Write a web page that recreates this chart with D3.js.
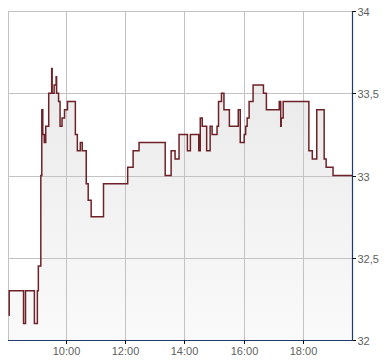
<!DOCTYPE html>
<html>
<head>
<meta charset="utf-8">
<script src="https://cdn.jsdelivr.net/npm/d3@7"></script>
<style>
  html, body { margin: 0; padding: 0; background: #ffffff; }
  svg { display: block; }
</style>
</head>
<body>
<div id="chart"></div>
<script>
// ---- data ----
const times = ["08:04","08:05","08:34","08:38","08:56","09:02","09:04","09:09","09:11","09:13","09:16","09:19","09:25",
  "09:31","09:32","09:36","09:40","09:41","09:45","09:48","09:52","09:57","10:03","10:19","10:23","10:29","10:33",
  "10:41","10:45","10:51","11:16","12:05","12:16","12:28","13:21","13:33","13:41","13:49","14:06","14:12","14:29",
  "14:32","14:36","14:45","14:52","14:56","15:06","15:09","15:15","15:20","15:31","15:49","15:53","16:01","16:04",
  "16:07","16:11","16:19","16:40","16:46","17:12","17:15","17:16","17:20","18:12","18:19","18:28","18:43","18:47",
  "19:01","19:40"];
const prices = [32.15,32.3,32.1,32.3,32.1,32.3,32.45,33.0,33.4,33.25,33.2,33.3,33.5,
  33.65,33.5,33.55,33.6,33.5,33.45,33.3,33.35,33.4,33.45,33.25,33.15,33.2,33.15,
  32.95,32.85,32.75,32.95,33.05,33.15,33.2,33.0,33.15,33.1,33.25,33.15,33.25,33.15,
  33.35,33.3,33.15,33.3,33.25,33.3,33.45,33.5,33.4,33.3,33.4,33.2,33.25,33.3,
  33.35,33.45,33.55,33.5,33.4,33.45,33.3,33.35,33.45,33.15,33.1,33.4,33.1,33.05,
  33.0,33.0];
const xTickLabels = ["10:00","12:00","14:00","16:00","18:00"];
const yTickValues = [32, 32.5, 33, 33.5, 34];
const yTickLabels = ["32","32,5","33","33,5","34"];
const xDomainLabels = ["08:00","19:40"];

// ---- helpers ----
const toMin = s => { const [h, m] = s.split(":").map(Number); return h * 60 + m; };
const data = times.map((t, i) => ({ t: toMin(t), v: prices[i] }));

const W = 390, H = 364;
const plotLeft = 8, plotRight = 352.5, plotTop = 11, plotBottom = 340;

const x = d3.scaleLinear().domain(xDomainLabels.map(toMin)).range([6.75, 352.3]);
const y = d3.scaleLinear().domain([32, 34]).range([plotBottom, plotTop]);

const svg = d3.select("#chart").append("svg").attr("width", W).attr("height", H);

const defs = svg.append("defs");
const grad = defs.append("linearGradient").attr("id", "areaGrad")
  .attr("gradientUnits", "userSpaceOnUse")
  .attr("x1", 0).attr("x2", 0).attr("y1", plotTop).attr("y2", plotBottom);
grad.append("stop").attr("offset", "0%").attr("stop-color", "#e6e6e6");
grad.append("stop").attr("offset", "100%").attr("stop-color", "#fafafa");

defs.append("clipPath").attr("id", "plotClip").append("rect")
  .attr("x", plotLeft).attr("y", plotTop - 2)
  .attr("width", plotRight - plotLeft).attr("height", plotBottom - plotTop + 2);

// area
const area = d3.area().curve(d3.curveStepAfter)
  .x(d => x(d.t)).y0(plotBottom).y1(d => y(d.v));
svg.append("path").datum(data).attr("d", area)
  .attr("fill", "url(#areaGrad)").attr("clip-path", "url(#plotClip)");

// grid
const grid = svg.append("g").attr("stroke", "#c3c3c3").attr("stroke-width", 1).attr("shape-rendering", "crispEdges");
yTickValues.forEach(v => {
  const yy = Math.round(y(v)) + 0.5;
  grid.append("line").attr("x1", plotLeft).attr("x2", plotRight).attr("y1", yy).attr("y2", yy);
});
grid.append("line").attr("x1", plotLeft + 0.5).attr("x2", plotLeft + 0.5).attr("y1", plotTop).attr("y2", plotBottom);
xTickLabels.forEach(l => {
  const xx = Math.round(x(toMin(l))) + 0.5;
  grid.append("line").attr("x1", xx).attr("x2", xx).attr("y1", plotTop).attr("y2", plotBottom);
});

// line
const line = d3.line().curve(d3.curveStepAfter).x(d => x(d.t)).y(d => y(d.v));
svg.append("path").datum(data).attr("d", line)
  .attr("fill", "none").attr("stroke", "#6e2228").attr("stroke-width", 1.5)
  .attr("clip-path", "url(#plotClip)");

// axes
const axisColor = "#1c3a6b";
svg.append("line").attr("x1", plotRight).attr("x2", plotRight).attr("y1", plotTop).attr("y2", plotBottom + 0.5)
  .attr("stroke", axisColor).attr("stroke-width", 1.2);
svg.append("line").attr("x1", plotLeft).attr("x2", plotRight).attr("y1", plotBottom + 0.5).attr("y2", plotBottom + 0.5)
  .attr("stroke", axisColor).attr("stroke-width", 1);

const textColor = "#5f5f5f";
yTickValues.forEach((v, i) => {
  const yy = Math.round(y(v)) + 0.5;
  svg.append("line").attr("x1", plotRight).attr("x2", plotRight + 3.5).attr("y1", yy).attr("y2", yy)
    .attr("stroke", "#111").attr("stroke-width", 1);
  svg.append("text").attr("x", plotRight + 5).attr("y", yy + 4)
    .attr("font-family", "Liberation Sans, Arial, sans-serif").attr("font-size", 11)
    .attr("fill", textColor).text(yTickLabels[i]);
});
xTickLabels.forEach(l => {
  const xx = Math.round(x(toMin(l))) + 0.5;
  svg.append("line").attr("x1", xx).attr("x2", xx).attr("y1", plotBottom).attr("y2", plotBottom + 4)
    .attr("stroke", "#111").attr("stroke-width", 1);
  svg.append("text").attr("x", xx).attr("y", 355).attr("text-anchor", "middle")
    .attr("font-family", "Liberation Sans, Arial, sans-serif").attr("font-size", 11)
    .attr("fill", textColor).text(l);
});
</script>
</body>
</html>
